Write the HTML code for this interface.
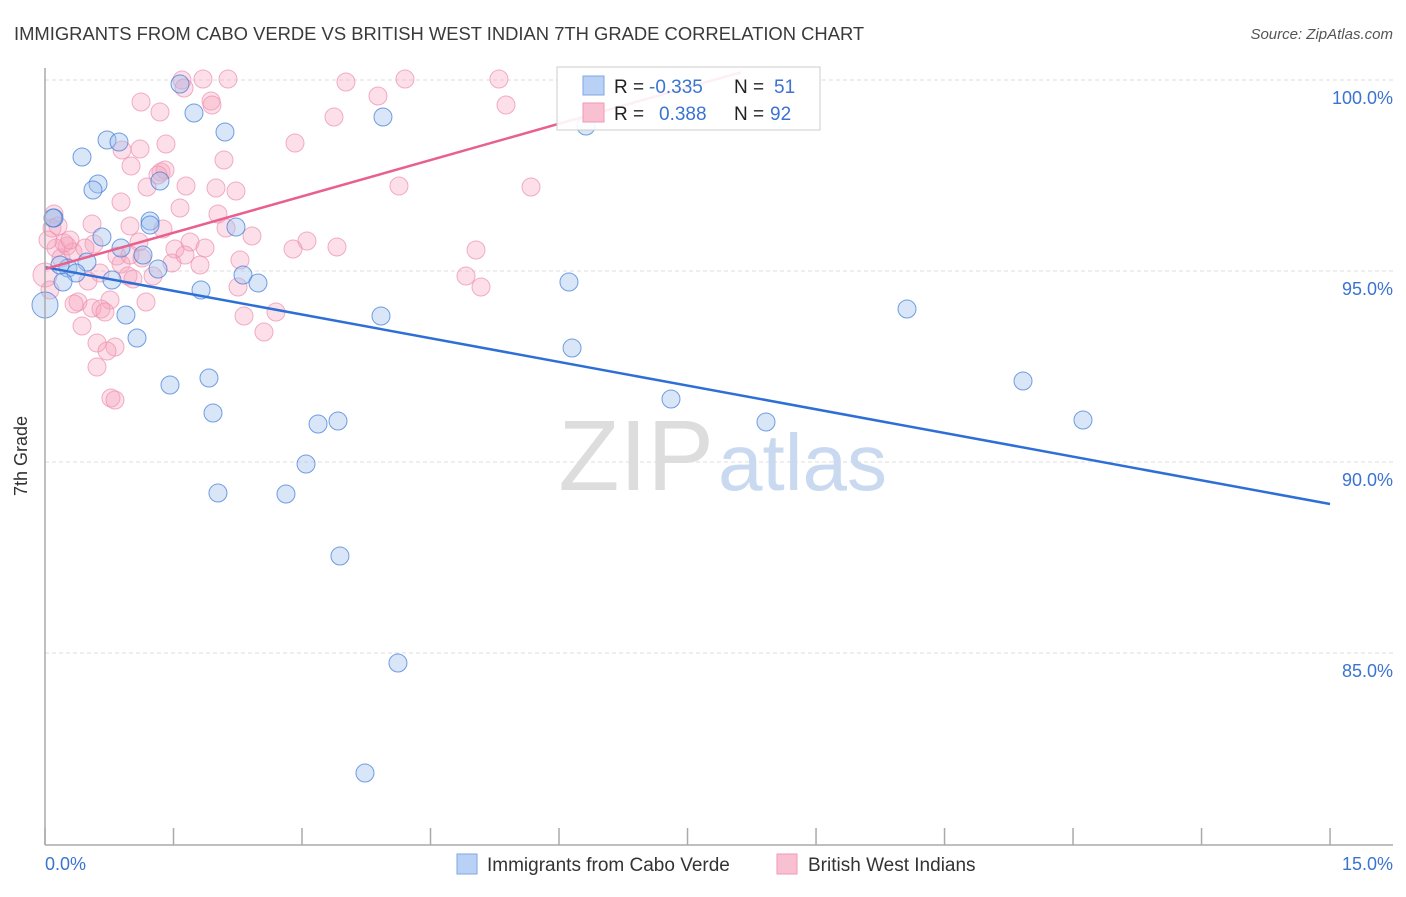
<!DOCTYPE html>
<html><head><meta charset="utf-8"><style>
body{margin:0;background:#fff;font-family:"Liberation Sans",sans-serif;}
svg text{font-family:"Liberation Sans",sans-serif;}
</style></head><body>
<svg id="chart" width="1406" height="892" xmlns="http://www.w3.org/2000/svg">
<text x="14" y="40" font-size="18.4" fill="#3a3a3a">IMMIGRANTS FROM CABO VERDE VS BRITISH WEST INDIAN 7TH GRADE CORRELATION CHART</text>
<text x="1393" y="39" font-size="15" fill="#555" font-style="italic" text-anchor="end">Source: ZipAtlas.com</text>
<g id="grid"></g>
<text x="714" y="490" font-size="100" fill="#ddd" text-anchor="end" font-family="Liberation Serif">ZIP</text>
<text x="718" y="490" font-size="80" fill="#c9d9f0">atlas</text>
<g id="pts"></g>
<g id="lines"></g>
<line x1="45" y1="68" x2="45" y2="845" stroke="#aaa" stroke-width="1.5"/>
<line x1="45" y1="845" x2="1393" y2="845" stroke="#aaa" stroke-width="1.5"/>
<g id="xt"></g>
<text x="27" y="456" font-size="18" fill="#333" text-anchor="middle" transform="rotate(-90 27 456)">7th Grade</text>
<text x="45" y="870" font-size="18" fill="#3b73d1">0.0%</text>
<text x="1393" y="870" font-size="18" fill="#3b73d1" text-anchor="end">15.0%</text>
<g>
<rect x="557" y="67" width="263" height="63" fill="#fff" fill-opacity="0.9" stroke="#ccc"/>
<rect x="583" y="76" width="21" height="19" fill="#b9d1f5" stroke="#7ea6e6"/>
<rect x="583" y="103" width="21" height="19" fill="#f9c0d2" stroke="#ee9ab5"/>
<text x="614" y="93" font-size="19" fill="#222">R =</text>
<text x="649" y="93" font-size="19" fill="#3b73d1">-0.335</text>
<text x="734" y="93" font-size="19" fill="#222">N =</text>
<text x="774" y="93" font-size="19" fill="#3b73d1">51</text>
<text x="614" y="120" font-size="19" fill="#222">R =</text>
<text x="659" y="120" font-size="19" fill="#3b73d1">0.388</text>
<text x="734" y="120" font-size="19" fill="#222">N =</text>
<text x="770" y="120" font-size="19" fill="#3b73d1">92</text>
</g>
<g>
<rect x="457" y="854" width="20" height="20" fill="#b9d1f5" stroke="#7ea6e6"/>
<text x="487" y="871" font-size="19" fill="#333">Immigrants from Cabo Verde</text>
<rect x="777" y="854" width="20" height="20" fill="#f9c0d2" stroke="#ee9ab5"/>
<text x="808" y="871" font-size="19" fill="#333">British West Indians</text>
</g>
</svg>
<script>
const yTicks=[100,95,90,85];
const yTickLabels=["100.0%","95.0%","90.0%","85.0%"];
const xTicks=[0,1.5,3,4.5,6,7.5,9,10.5,12,13.5,15];
const blueXpx=[180,194,225,107,119,82,98,93,160,150,236,102,121,143,54,87,68,76,63,158,243,258,201,112,126,137,170,209,213,318,338,306,218,286,340,398,365,383,381,569,572,586,671,766,907,1023,1083,45,53,60,150];
const blueYpx=[84,113,132,140,142,157,184,190,181,221,227,237,248,255,218,262,268,273,282,269,275,283,290,280,315,338,385,378,413,424,421,464,493,494,556,663,773,117,316,282,348,126,399,422,309,381,420,305,218,265,225];
const pinkXpx=[182,203,228,346,405,499,506,378,141,160,184,211,212,334,295,166,122,140,131,147,161,165,224,186,216,236,399,531,180,121,92,54,52,58,94,130,163,139,175,190,205,218,226,252,307,293,337,476,56,61,67,73,85,117,121,142,172,185,240,100,88,128,133,153,238,466,481,78,74,110,146,92,101,105,82,244,276,264,97,115,107,97,111,115,45,50,64,70,130,158,48,200];
const pinkYpx=[80,79,79,82,79,79,105,96,102,112,88,101,105,117,143,144,150,149,166,187,172,170,160,186,188,191,186,187,208,202,224,214,228,226,244,226,229,242,249,242,248,214,228,236,241,249,247,250,248,258,246,252,248,256,264,258,263,255,260,273,281,276,279,276,287,276,287,302,304,300,302,308,309,312,326,316,312,332,343,347,351,367,398,400,275,290,243,240,255,175,240,265];
// convert picture readings to data units
const blueX=blueXpx.map(p=>+((p-45)/85.67).toFixed(3)), blueY=blueYpx.map(p=>+(100-(p-80)/38.2).toFixed(3));
const pinkX=pinkXpx.map(p=>+((p-45)/85.67).toFixed(3)), pinkY=pinkYpx.map(p=>+(100-(p-80)/38.2).toFixed(3));
const blueTrend=[0,95.1,15,88.9];
const pinkTrend=[0,95.05,8.12,100.2];
const X=v=>45+v*85.67, Y=v=>80+(100-v)*38.2;
const NS="http://www.w3.org/2000/svg";
function mk(t,a,p){const e=document.createElementNS(NS,t);for(const k in a)e.setAttribute(k,a[k]);document.getElementById(p).appendChild(e);return e;}
yTicks.forEach((v,i)=>{
 const l=mk('line',{x1:45,x2:1393,y1:Y(v),y2:Y(v),stroke:'#ddd','stroke-dasharray':'4,3'},'grid');
 
 
 const t=mk('text',{x:1393,y:Y(v)+24,'font-size':18,fill:'#3b73d1','text-anchor':'end'},'grid');
 t.textContent=yTickLabels[i];
 
 
});
xTicks.forEach(v=>{
 const l=mk('line',{x1:X(v),x2:X(v),y1:828,y2:845,stroke:'#aaa','stroke-width':1.5},'xt');
 
 
});
pinkX.forEach((x,i)=>{
 const c=mk('circle',{cx:X(x),cy:Y(pinkY[i]),r:i==84?12:9,fill:'#f5a3bd','fill-opacity':0.35,stroke:'#ec8fae','stroke-opacity':0.7,'stroke-width':1},'pts');
 
 
});
blueX.forEach((x,i)=>{
 const c=mk('circle',{cx:X(x),cy:Y(blueY[i]),r:i==47?13:9,fill:'#9fc0ee','fill-opacity':0.4,stroke:'#3b78d8','stroke-opacity':0.7,'stroke-width':1},'pts');
 
 
});
const bl=mk('line',{x1:X(blueTrend[0]),y1:Y(blueTrend[1]),x2:X(blueTrend[2]),y2:Y(blueTrend[3]),stroke:'#2e6fd6','stroke-width':2.5},'lines');


const pl=mk('line',{x1:X(pinkTrend[0]),y1:Y(pinkTrend[1]),x2:X(pinkTrend[2]),y2:Y(pinkTrend[3]),stroke:'#e8608d','stroke-width':2.5},'lines');


</script>
</body></html>
